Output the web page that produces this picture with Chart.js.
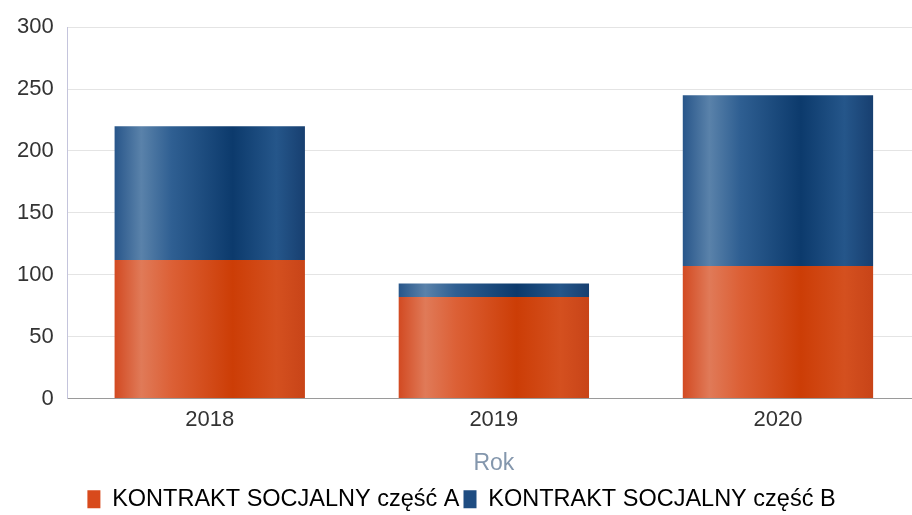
<!DOCTYPE html>
<html>
<head>
<meta charset="utf-8">
<script src="https://cdn.jsdelivr.net/npm/chart.js@4"></script>
<style>
  html, body { margin: 0; padding: 0; background: #fff; overflow: hidden; }
  #wrap { width: 920px; height: 515px; }
</style>
</head>
<body>
<div id="wrap"><canvas id="chart"></canvas></div>
<script>
Chart.defaults.font.family = "'Liberation Sans', Arial, sans-serif";
Chart.defaults.color = "#333";

const years = ["2018", "2019", "2020"];
const partA = [112, 82, 107];
const partB = [108, 11, 138];
const yTicks = [0, 50, 100, 150, 200, 250, 300];

const BAR_PCT = 0.67;

// horizontal "cylinder" shading for each bar
function shade(stops, base) {
  return (ctx) => {
    const chart = ctx.chart;
    const x = chart.scales && chart.scales.x;
    if (!chart.chartArea || !x || ctx.dataIndex === undefined) return base;
    const c = x.getPixelForValue(ctx.dataIndex);
    const half = (x.width / years.length) * BAR_PCT / 2;
    const g = chart.ctx.createLinearGradient(c - half, 0, c + half, 0);
    stops.forEach(([p, col]) => g.addColorStop(p, col));
    return g;
  };
}

const orange = [
  [0, "#d24a22"], [0.14, "#e07a58"], [0.3, "#dc6036"],
  [0.62, "#cc3d06"], [0.85, "#d4501f"], [1, "#c84418"],
];
const blue = [
  [0, "#28568a"], [0.14, "#5a82aa"], [0.3, "#2f5f92"],
  [0.62, "#0c3a6c"], [0.85, "#25568a"], [1, "#173f70"],
];

new Chart(document.getElementById("chart"), {
  type: "bar",
  data: {
    labels: years,
    datasets: [
      {
        label: "KONTRAKT SOCJALNY część A",
        data: partA,
        backgroundColor: shade(orange, "#d4491c"),
        borderWidth: 0,
        barPercentage: BAR_PCT,
        categoryPercentage: 1,
      },
      {
        label: "KONTRAKT SOCJALNY część B",
        data: partB,
        backgroundColor: shade(blue, "#1f4d82"),
        borderWidth: 0,
        barPercentage: BAR_PCT,
        categoryPercentage: 1,
      },
    ],
  },
  options: {
    responsive: true,
    maintainAspectRatio: false,
    animation: false,
    layout: { padding: { left: 3, right: 0, top: 16, bottom: -6 } },
    plugins: {
      tooltip: { enabled: false },
      legend: {
        position: "bottom",
        labels: {
          boxWidth: 13,
          boxHeight: 18,
          padding: 4,
          color: "#333",
          font: { size: 23.5 },
          generateLabels: (chart) =>
            chart.data.datasets.map((d, i) => ({
              text: d.label,
              fillStyle: i === 0 ? "#d84a1c" : "#1f4d82",
              strokeStyle: "transparent",
              lineWidth: 0,
              datasetIndex: i,
            })),
        },
      },
    },
    scales: {
      x: {
        stacked: true,
        grid: { display: false },
        border: { color: "#9a9a9a", width: 1 },
        ticks: { font: { size: 22 }, color: "#333", padding: 0 },
        title: {
          display: true,
          text: "Rok",
          color: "#8497ad",
          font: { size: 23 },
          padding: { top: 17, bottom: 6 },
        },
      },
      y: {
        stacked: true,
        min: 0,
        max: 300,
        afterBuildTicks: (s) => { s.ticks = yTicks.map((v) => ({ value: v })); },
        grid: { color: "#e4e4e4", drawTicks: false },
        border: { color: "#c4c4dc", width: 1 },
        ticks: { font: { size: 22 }, color: "#333", padding: 14 },
      },
    },
  },
});
</script>
</body>
</html>
